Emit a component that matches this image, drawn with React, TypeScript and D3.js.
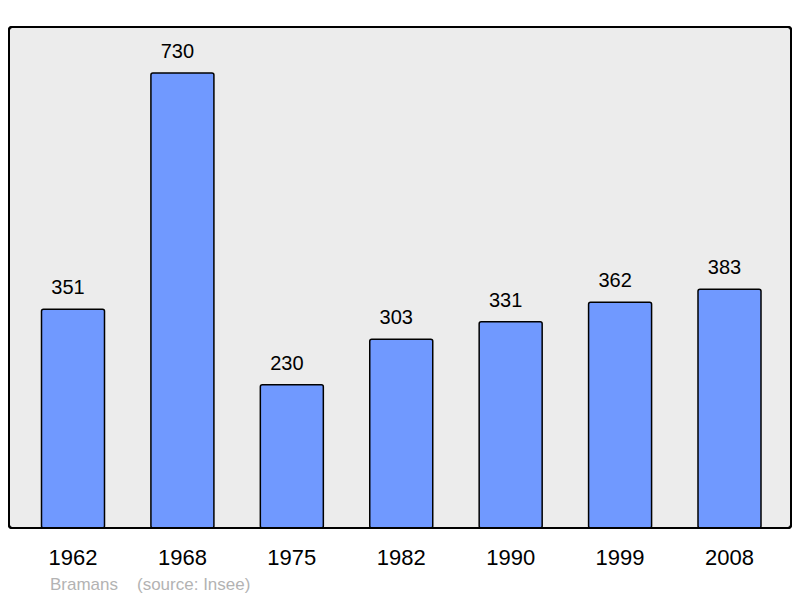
import React from "react";
import * as d3 from "d3";

const years = ["1962", "1968", "1975", "1982", "1990", "1999", "2008"];
const population = [351, 730, 230, 303, 331, 362, 383];
const placeName = "Bramans";
const sourceText = "(source: Insee)";

export default function App() {
  const W = 800, H = 598;
  const frame = { x: 9, y: 27, w: 782, h: 501 };
  const x = d3.scalePoint<string>().domain(years).range([73, 729.5]);
  const y = d3.scaleLinear().domain([0, 730]).range([528, 73]);
  const bw = 63;
  const font = "'Liberation Sans', Arial, sans-serif";
  return (
    <svg width={W} height={H} style={{ position: "absolute", left: 0, top: 0 }} fontFamily={font}>
      <rect x={0} y={0} width={W} height={H} fill="#ffffff" />
      <rect x={frame.x} y={frame.y} width={frame.w} height={frame.h} rx={3} fill="#ececec" stroke="#000" strokeWidth={2} />
      {years.map((yr, i) => {
        const cx = x(yr)!;
        const top = y(population[i]);
        return (
          <g key={yr}>
            <rect x={cx - bw / 2} y={top} width={bw} height={y(0) - top} rx={2} fill="#7099ff" stroke="#000" strokeWidth={1.5} />
            <text x={cx - 5} y={top - 15} textAnchor="middle" fontSize={20} fill="#000">{population[i]}</text>
            <text x={cx} y={565} textAnchor="middle" fontSize={22} fill="#000">{yr}</text>
          </g>
        );
      })}
      <rect x={frame.x} y={frame.y} width={frame.w} height={frame.h} rx={3} fill="none" stroke="#000" strokeWidth={2} />
      <text x={50} y={590} fontSize={17} fill="#b3b3b3">{placeName}</text>
      <text x={137} y={590} fontSize={17} fill="#b3b3b3">{sourceText}</text>
    </svg>
  );
}
